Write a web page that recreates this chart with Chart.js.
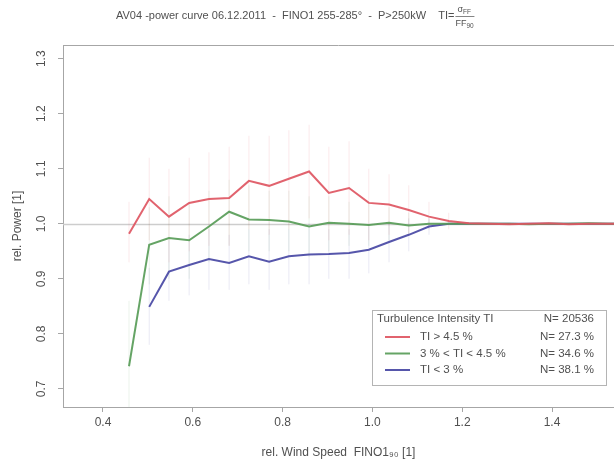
<!DOCTYPE html>
<html>
<head>
<meta charset="utf-8">
<script src="https://cdn.jsdelivr.net/npm/chart.js@4.4.1/dist/chart.umd.min.js"></script>
<style>
  html, body { margin: 0; padding: 0; background: #fff; }
  #wrap { width: 614px; height: 464px; position: relative; }
</style>
</head>
<body>
<div id="wrap"><canvas id="chart" width="614" height="464"></canvas></div>
<script>
// rel. wind speed bin centres (FINO1 90 m / rated)
const binSpeed = [0.458, 0.503, 0.547, 0.592, 0.636, 0.681, 0.725, 0.770, 0.814, 0.859, 0.903, 0.948, 0.992,
                  1.037, 1.081, 1.126, 1.170, 1.215, 1.259, 1.304, 1.348, 1.393, 1.437, 1.482, 1.526, 1.571];

// rel. power per bin for the three turbulence classes
const powerHighTI = [0.982, 1.045, 1.013, 1.038, 1.045, 1.047, 1.078, 1.069, 1.082, 1.095, 1.056, 1.065, 1.038,
                     1.035, 1.025, 1.013, 1.005, 1.001, 1.000, 0.999, 1.000, 1.001, 0.999, 1.000, 1.000, 1.000];
const powerMidTI  = [0.741, 0.962, 0.974, 0.970, 0.995, 1.022, 1.008, 1.007, 1.004, 0.995, 1.002, 1.000, 0.998,
                     1.002, 0.997, 1.000, 1.000, 1.000, 1.000, 1.000, 0.999, 1.000, 1.000, 1.001, 1.000, 1.000];
const powerLowTI  = [null, 0.849, 0.913, 0.925, 0.936, 0.929, 0.941, 0.931, 0.941, 0.944, 0.945, 0.947, 0.953,
                     0.967, 0.980, 0.995, 1.000, 1.000, 1.000, 1.000, 1.000, 1.000, 1.000, 1.000, 1.000, 1.000];

// faint scatter bars (low / high) per bin
const highTILow  = [0.93, 0.97, 0.93, 0.95, 0.96, 0.96, 0.99, 0.98, 0.99, 1.01, 0.97, 0.98, 0.97, 0.98, 0.98, 0.99, 0.99];
const highTIHigh = [1.04, 1.12, 1.10, 1.12, 1.13, 1.14, 1.16, 1.16, 1.17, 1.18, 1.14, 1.15, 1.10, 1.09, 1.07, 1.04, 1.02];
const midTILow   = [0.62, 0.89, 0.90, 0.90, 0.93, 0.96, 0.95, 0.95, 0.95, 0.94, 0.95, 0.96, 0.96, 0.97, 0.98, 0.99];
const midTIHigh  = [0.86, 1.03, 1.05, 1.04, 1.06, 1.08, 1.07, 1.06, 1.06, 1.05, 1.05, 1.04, 1.04, 1.03, 1.02, 1.01];
const lowTILow   = [null, 0.78, 0.86, 0.87, 0.88, 0.88, 0.89, 0.88, 0.89, 0.89, 0.90, 0.90, 0.91, 0.93, 0.95, 0.98];
const lowTIHigh  = [null, 0.92, 0.97, 0.98, 0.99, 0.98, 0.99, 0.99, 0.99, 1.00, 0.99, 0.99, 1.00, 1.00, 1.01, 1.01];

const xTickValues = [0.4, 0.6, 0.8, 1.0, 1.2, 1.4];
const yTickValues = [0.7, 0.8, 0.9, 1.0, 1.1, 1.2, 1.3];
const refLevel = 1.0;

const titleText = 'AV04 -power curve 06.12.2011  -  FINO1 255-285°  -  P>250kW    TI=';
const legendTitle = 'Turbulence Intensity TI';
const legendTotal = 'N= 20536';
const classLabels = ['TI > 4.5 %', '3 % < TI < 4.5 %', 'TI < 3 %'];
const classShares = ['N= 27.3 %', 'N= 34.6 %', 'N= 38.1 %'];

const RED = 'rgba(222,86,98,0.92)';
const GREEN = 'rgba(88,156,88,0.92)';
const BLUE = 'rgba(72,72,164,0.92)';
const FONT = '"Liberation Sans", Arial, sans-serif';
const TEXT = '#505050';
const AXIS = '#a6a6a6';

function toPoints(ys) {
    return binSpeed.map((x, i) => ({ x, y: ys[i] === undefined ? null : ys[i] }));
}

// vertical segments separated by gaps
function toBars(lo, hi) {
    const pts = [];
    lo.forEach((l, i) => {
        if (l === null) return;
        pts.push({ x: binSpeed[i], y: l }, { x: binSpeed[i], y: hi[i] }, { x: binSpeed[i], y: null });
    });
    return pts;
}

const decor = {
    id: 'decor',
    beforeDatasetsDraw(chart) {
        const { ctx, chartArea: a, scales: { y } } = chart;
        const py = Math.round(y.getPixelForValue(refLevel)) + 0.5;
        ctx.save();
        ctx.strokeStyle = '#cdcdcd';
        ctx.lineWidth = 1.5;
        ctx.beginPath(); ctx.moveTo(a.left, py); ctx.lineTo(a.right, py); ctx.stroke();
        ctx.restore();
    },
    afterDraw(chart) {
        const { ctx, chartArea: a, scales: { y } } = chart;
        ctx.save();
        // top frame line
        ctx.strokeStyle = AXIS; ctx.lineWidth = 1;
        ctx.beginPath(); ctx.moveTo(a.left, a.top + 0.5); ctx.lineTo(a.right, a.top + 0.5); ctx.stroke();

        // rotated y tick labels
        ctx.fillStyle = TEXT;
        ctx.font = '12px ' + FONT;
        ctx.textAlign = 'center'; ctx.textBaseline = 'middle';
        y.ticks.forEach(t => {
            ctx.save();
            ctx.translate(42, y.getPixelForValue(t.value));
            ctx.rotate(-Math.PI / 2);
            ctx.fillText(t.value.toFixed(1), 0, 0);
            ctx.restore();
        });

        // title with fraction
        ctx.textAlign = 'left'; ctx.textBaseline = 'alphabetic';
        ctx.font = '11px ' + FONT;
        let tx = 116;
        ctx.fillText(titleText, tx, 19);
        tx += ctx.measureText(titleText).width + 1;
        ctx.font = '9px ' + FONT;
        ctx.fillText('σ', tx + 2, 12);
        const sw = ctx.measureText('σ').width;
        ctx.font = '6.5px ' + FONT;
        ctx.fillText('FF', tx + 2 + sw, 14);
        ctx.font = '9px ' + FONT;
        ctx.fillText('FF', tx, 26);
        const fw = ctx.measureText('FF').width;
        ctx.font = '6.5px ' + FONT;
        ctx.fillText('90', tx + fw, 28);
        ctx.strokeStyle = TEXT; ctx.lineWidth = 0.7;
        ctx.beginPath(); ctx.moveTo(tx, 16.5); ctx.lineTo(tx + 19, 16.5); ctx.stroke();

        // legend box
        const bx = 372, by = 310, bw = 234, bh = 75;
        ctx.fillStyle = '#fff';
        ctx.fillRect(bx, by, bw, bh);
        ctx.strokeStyle = '#b4b4b4'; ctx.lineWidth = 1;
        ctx.strokeRect(bx + 0.5, by + 0.5, bw, bh);
        ctx.fillStyle = TEXT;
        ctx.font = '11.5px ' + FONT;
        ctx.textBaseline = 'middle';
        ctx.textAlign = 'left';
        ctx.fillText(legendTitle, bx + 5, by + 9);
        ctx.textAlign = 'right';
        ctx.fillText(legendTotal, bx + bw - 12, by + 9);
        const colors = [RED, GREEN, BLUE];
        classLabels.forEach((lab, i) => {
            const ry = by + 27 + i * 16.5;
            ctx.strokeStyle = colors[i]; ctx.lineWidth = 2;
            ctx.beginPath(); ctx.moveTo(bx + 13, ry); ctx.lineTo(bx + 38, ry); ctx.stroke();
            ctx.textAlign = 'left';
            ctx.fillText(lab, bx + 48, ry);
            ctx.textAlign = 'right';
            ctx.fillText(classShares[i], bx + bw - 12, ry);
        });
        ctx.restore();
    }
};

const lineDs = (data, color) => ({
    data: toPoints(data), borderColor: color, borderWidth: 2, pointRadius: 0,
    tension: 0, spanGaps: false, fill: false
});
const barDs = (lo, hi, color) => ({
    data: toBars(lo, hi), borderColor: color, borderWidth: 1, pointRadius: 0,
    tension: 0, spanGaps: false, fill: false
});

new Chart(document.getElementById('chart'), {
    type: 'line',
    data: {
        datasets: [
            lineDs(powerHighTI, RED),
            lineDs(powerMidTI, GREEN),
            lineDs(powerLowTI, BLUE),
            barDs(highTILow, highTIHigh, 'rgba(222,86,98,0.13)'),
            barDs(midTILow, midTIHigh, 'rgba(88,156,88,0.12)'),
            barDs(lowTILow, lowTIHigh, 'rgba(72,72,164,0.12)')
        ]
    },
    options: {
        responsive: false,
        animation: false,
        devicePixelRatio: 1,
        layout: { padding: { top: 45, right: 0, left: 0, bottom: 0 } },
        plugins: { legend: { display: false }, tooltip: { enabled: false }, title: { display: false } },
        scales: {
            x: {
                type: 'linear', min: 0.311, max: 1.538,
                afterBuildTicks: s => { s.ticks = xTickValues.map(v => ({ value: v })); },
                afterFit: s => { s.height = 57; },
                border: { color: AXIS, width: 1 },
                grid: { drawOnChartArea: false, drawTicks: true, tickLength: 5, color: AXIS },
                ticks: { color: TEXT, font: { family: FONT, size: 12 }, padding: 3, maxRotation: 0,
                         callback: v => Number(v).toFixed(1) },
                title: { display: true, text: 'rel. Wind Speed  FINO1₉₀ [1]', color: TEXT,
                         font: { family: FONT, size: 12 }, padding: { top: 0, bottom: 4 } }
            },
            y: {
                type: 'linear', min: 0.667, max: 1.325,
                afterBuildTicks: s => { s.ticks = yTickValues.map(v => ({ value: v })); },
                afterFit: s => { s.width = 63; },
                border: { color: AXIS, width: 1 },
                grid: { drawOnChartArea: false, drawTicks: true, tickLength: 5, color: AXIS },
                ticks: { display: false },
                title: { display: true, text: 'rel. Power [1]', color: TEXT,
                         font: { family: FONT, size: 12 }, padding: { top: 10, bottom: 0 } }
            }
        }
    },
    plugins: [decor]
});
</script>
</body>
</html>
